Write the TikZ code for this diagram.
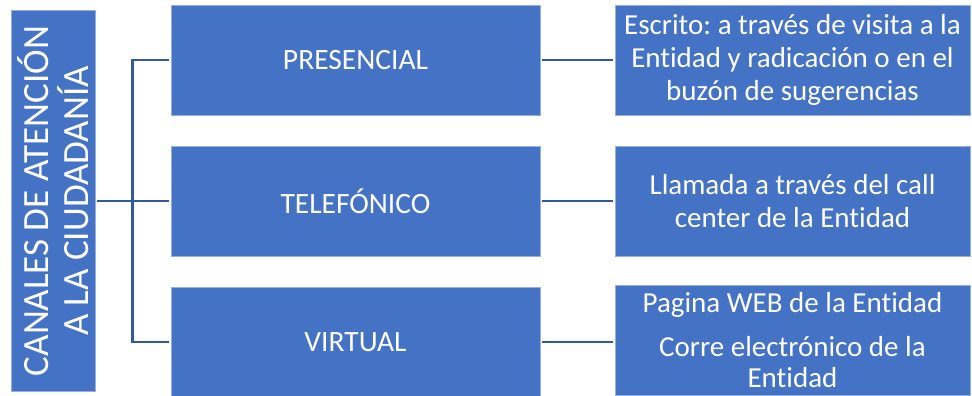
\documentclass[tikz,border=0pt]{standalone}
\usepackage{fontspec}
\setmainfont[Ligatures=NoCommon]{Carlito}
\frenchspacing
\definecolor{azulcaja}{RGB}{68,114,196}
\definecolor{azulborde}{RGB}{150,175,220}
\definecolor{azullinea}{RGB}{52,88,156}
\tikzset{
  caja/.style={fill=azulcaja,draw=azulborde,line width=0.8pt,text=white,align=center,inner sep=1pt},
  medio/.style={caja,minimum width=369pt,minimum height=110pt,font=\fontsize{29.5}{31}\selectfont},
  derecha/.style={caja,minimum width=355pt,minimum height=110pt,font=\fontsize{29}{33}\selectfont},
  conector/.style={draw=azullinea,line width=2.4pt}
}
\begin{document}
\begin{tikzpicture}[x=1pt,y=-1pt]
            \useasboundingbox (0,0) rectangle (972,396);
            \node[caja,rotate=90,minimum width=381pt,minimum height=84pt,font=\fontsize{37}{40}\selectfont] (canales) at (53,201) {CANALES DE ATENCIÓN\\A LA CIUDADANÍA};
            \node[medio] (presencial) at (355.5,60) {PRESENCIAL};
            \node[medio] (telefonico) at (355.5,201) {TELEFÓNICO};
            \node[medio] (virtual) at (355.5,342) {VIRTUAL};
            \node[derecha] (escrito) at (792.5,60) {Escrito: a través de visita a la\\Entidad y radicación o en el\\buzón de sugerencias};
            \node[derecha] (llamada) at (792.5,201) {Llamada a través del call\\center de la Entidad};
            \node[derecha,font=\fontsize{29}{31}\selectfont] (web) at (792.5,340) {Pagina WEB de la Entidad\\[13pt]Corre electrónico de la\\Entidad};
            \draw[conector,shorten <=2pt,shorten >=2pt] (canales.south) -- (telefonico.west);
            \draw[conector,shorten <=2pt,shorten >=2pt] (presencial.west) -- ++(-38,0) |- (virtual.west);
            \draw[conector,shorten <=2pt,shorten >=2pt] (presencial.east) -- (escrito.west);
            \draw[conector,shorten <=2pt,shorten >=2pt] (telefonico.east) -- (llamada.west);
            \draw[conector,shorten <=2pt,shorten >=2pt] (virtual.east) -- (virtual -| web.west);
        \end{tikzpicture}
\end{document}
